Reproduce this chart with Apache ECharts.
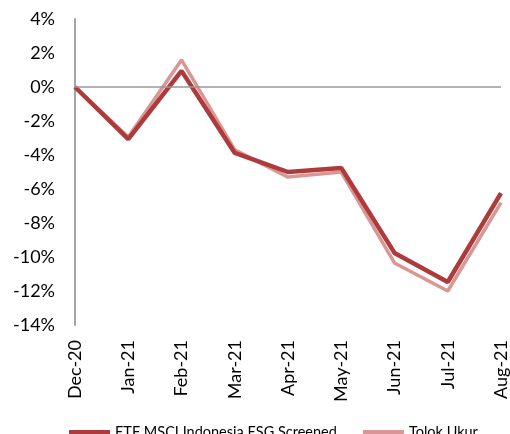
<!DOCTYPE html>
<html>
<head>
<meta charset="utf-8">
<script src="https://cdn.jsdelivr.net/npm/echarts@6/dist/echarts.min.js"></script>
<style>
  html, body { margin: 0; padding: 0; background: #fff; }
  #chart { width: 510px; height: 434px; }
</style>
</head>
<body>
<div id="chart"></div>
<script>
// data
var months = ['Dec-20', 'Jan-21', 'Feb-21', 'Mar-21', 'Apr-21', 'May-21', 'Jun-21', 'Jul-21', 'Aug-21'];
var etfEsg = [0, -3.06, 0.95, -3.88, -5.0, -4.76, -9.76, -11.47, -6.24];
var tolokUkur = [0, -2.94, 1.59, -3.7, -5.3, -5.0, -10.35, -12.0, -6.8];
var yTicks = { min: -14, max: 4, step: 2 };

var font = 'Lato, "Open Sans", sans-serif';
var darkRed = '#AE3B3B';
var lightRed = '#D99694';

var myChart = echarts.init(document.getElementById('chart'));
var option = {
  animation: false,
  grid: { left: 75, top: 19, right: 2, bottom: 109 },
  legend: {
    left: 64,
    top: 420,
    icon: 'rect',
    itemWidth: 41,
    itemHeight: 5,
    itemGap: 26,
    textStyle: { fontFamily: font, fontSize: 14.5, color: '#000' },
    data: ['ETF MSCI Indonesia ESG Screened', 'Tolok Ukur']
  },
  xAxis: {
    type: 'category',
    data: months,
    boundaryGap: false,
    axisLine: { show: false, onZero: false },
    axisTick: { show: false },
    axisLabel: {
      rotate: 90,
      margin: 15,
      fontFamily: font,
      fontSize: 18,
      color: '#000'
    }
  },
  yAxis: {
    type: 'value',
    min: yTicks.min,
    max: yTicks.max,
    interval: yTicks.step,
    axisLine: { show: true, lineStyle: { color: '#a6a6a6', width: 2 } },
    axisTick: { show: false },
    splitLine: { show: false },
    axisLabel: {
      margin: 20,
      fontFamily: font,
      fontSize: 18,
      color: '#000',
      formatter: function (v) { return v + '%'; }
    }
  },
  series: [
    {
      name: 'Tolok Ukur',
      type: 'line',
      data: tolokUkur,
      symbol: 'none',
      lineStyle: { color: lightRed, width: 3.5 },
      itemStyle: { color: lightRed },
      z: 2,
      // garis 0%
      markLine: {
        silent: true,
        symbol: 'none',
        label: { show: false },
        lineStyle: { color: '#999', width: 1.5, type: 'solid' },
        data: [{ yAxis: 0 }]
      }
    },
    {
      name: 'ETF MSCI Indonesia ESG Screened',
      type: 'line',
      data: etfEsg,
      symbol: 'none',
      lineStyle: { color: darkRed, width: 4.5 },
      itemStyle: { color: darkRed },
      z: 3
    }
  ]
};
myChart.setOption(option);
</script>
</body>
</html>
